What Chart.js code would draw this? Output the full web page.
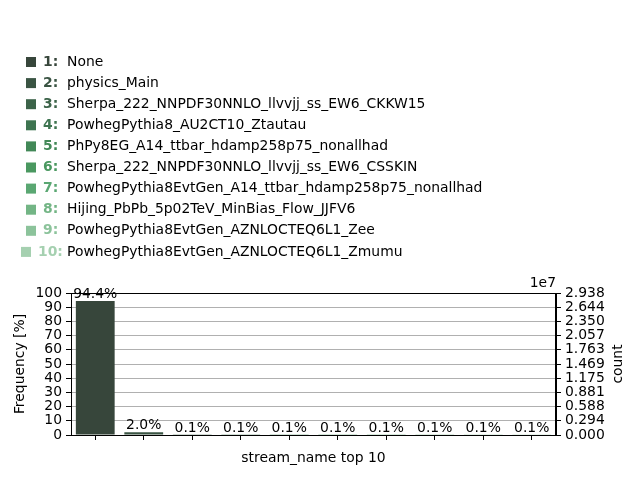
<!DOCTYPE html>
<html>
<head>
<meta charset="utf-8">
<script src="https://cdn.jsdelivr.net/npm/chart.js@4"></script>
<style>
  html, body { margin: 0; padding: 0; background: #fff; }
  #wrap { width: 640px; height: 480px; position: relative; }
</style>
</head>
<body>
<div id="wrap"><canvas id="c" width="640" height="480"></canvas></div>
<script>
const categories = [
  'None',
  'physics_Main',
  'Sherpa_222_NNPDF30NNLO_llvvjj_ss_EW6_CKKW15',
  'PowhegPythia8_AU2CT10_Ztautau',
  'PhPy8EG_A14_ttbar_hdamp258p75_nonallhad',
  'Sherpa_222_NNPDF30NNLO_llvvjj_ss_EW6_CSSKIN',
  'PowhegPythia8EvtGen_A14_ttbar_hdamp258p75_nonallhad',
  'Hijing_PbPb_5p02TeV_MinBias_Flow_JJFV6',
  'PowhegPythia8EvtGen_AZNLOCTEQ6L1_Zee',
  'PowhegPythia8EvtGen_AZNLOCTEQ6L1_Zmumu'
];
const percentages = [94.4, 2.0, 0.1, 0.1, 0.1, 0.1, 0.1, 0.1, 0.1, 0.1];
const totalCount = 29380000;
const colors = [
  '#37463b', '#3a5443', '#3c6349', '#3e7450', '#428857',
  '#4a9860', '#5aa772', '#73b585', '#8cc39b', '#a5d0b0'
];

const FONT = 'DejaVu Sans';
const FS = 13.9;

const overlay = {
  id: 'overlay',
  afterDraw(chart) {
    const ctx = chart.ctx;
    const a = chart.chartArea;
    ctx.save();
    // frame
    ctx.strokeStyle = '#000';
    ctx.lineWidth = 1;
    ctx.strokeRect(Math.round(a.left) + 0.5, Math.round(a.top) + 0.5,
                   Math.round(a.right - a.left) - 1, Math.round(a.bottom - a.top));
    // value labels
    ctx.fillStyle = '#000';
    ctx.font = FS + 'px "' + FONT + '"';
    ctx.textAlign = 'center';
    ctx.textBaseline = 'bottom';
    const meta = chart.getDatasetMeta(0);
    meta.data.forEach((bar, i) => {
      ctx.fillText(percentages[i].toFixed(1) + '%', bar.x, bar.y);
    });
    // offset text
    ctx.textAlign = 'right';
    ctx.textBaseline = 'bottom';
    ctx.fillText('1e7', a.right, a.top - 3);
    // right axis title
    ctx.save();
    ctx.translate(618, (a.top + a.bottom) / 2);
    ctx.rotate(-Math.PI / 2);
    ctx.textAlign = 'center';
    ctx.textBaseline = 'middle';
    ctx.fillText('count', 0, 0);
    ctx.restore();
    // legend text block
    categories.forEach((name, i) => {
      const y = 62 + i * 21.1;
      const n = i + 1;
      const sx = n >= 10 ? 21 : 26;
      ctx.fillStyle = colors[i];
      ctx.fillRect(sx, y - 5, 10, 10);
      ctx.font = 'bold ' + FS + 'px "' + FONT + '"';
      ctx.textAlign = 'left';
      ctx.textBaseline = 'middle';
      ctx.fillText(n + ':', sx + 17, y);
      ctx.fillStyle = '#000';
      ctx.font = FS + 'px "' + FONT + '"';
      ctx.fillText(name, 67, y);
    });
    ctx.restore();
  }
};

new Chart(document.getElementById('c'), {
  type: 'bar',
  data: {
    labels: categories,
    datasets: [{
      data: percentages,
      backgroundColor: colors,
      borderWidth: 0,
      barPercentage: 0.8,
      categoryPercentage: 1.0,
      yAxisID: 'y'
    }]
  },
  options: {
    responsive: false,
    animation: false,
    devicePixelRatio: 1,
    layout: { padding: { top: 293, left: 0, right: 0, bottom: 0 } },
    plugins: { legend: { display: false }, tooltip: { enabled: false } },
    scales: {
      x: {
        offset: true,
        afterFit(s) { s.height = 45; },
        grid: { display: true, drawOnChartArea: false, offset: false, drawTicks: true, tickLength: 5, tickColor: '#000', tickWidth: 1 },
        border: { display: true, color: '#000', width: 1 },
        ticks: { display: false, autoSkip: false },
        title: { display: true, text: 'stream_name top 10', color: '#000',
                 font: { family: FONT, size: FS }, padding: { top: 0, bottom: 13 } }
      },
      y: {
        position: 'left',
        min: 0, max: 100,
        afterFit(s) { s.width = 71; },
        ticks: { stepSize: 10, autoSkip: false, color: '#000', font: { family: FONT, size: FS }, padding: 4 },
        grid: { color: '#b0b0b0', lineWidth: 1, drawTicks: true, tickLength: 5, tickColor: '#000' },
        border: { display: true, color: '#000', width: 1 },
        title: { display: true, text: 'Frequency [%]', color: '#000',
                 font: { family: FONT, size: FS }, padding: { top: 12, bottom: 0 } }
      },
      y2: {
        position: 'right',
        min: 0, max: 100,
        afterFit(s) { s.width = 84; },
        ticks: {
          stepSize: 10, autoSkip: false, color: '#000', font: { family: FONT, size: FS }, padding: 4,
          callback: (v) => (v / 100 * totalCount / 1e7).toFixed(3)
        },
        grid: { display: true, drawOnChartArea: false, drawTicks: true, tickLength: 5, tickColor: '#000' },
        border: { display: true, color: '#000', width: 1 }
      }
    }
  },
  plugins: [overlay]
});
</script>
</body>
</html>
